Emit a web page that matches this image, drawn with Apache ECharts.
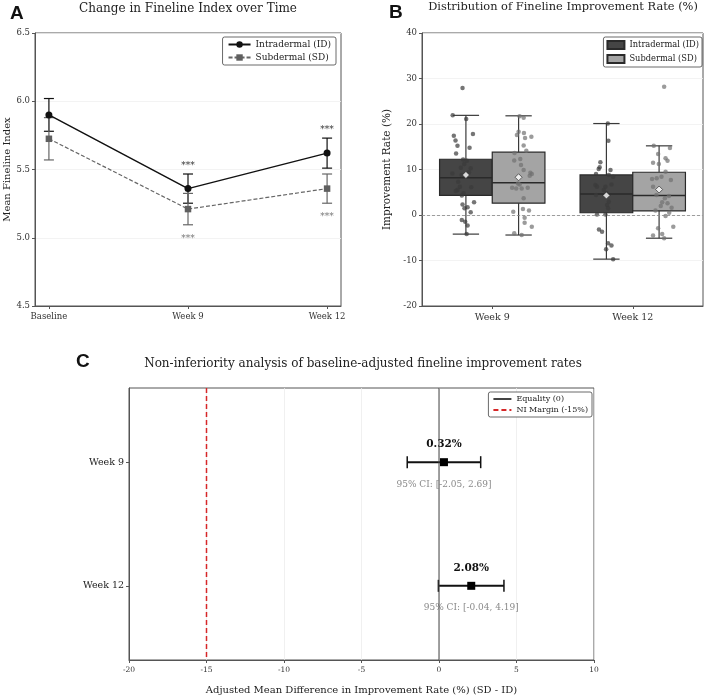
<!DOCTYPE html>
<html>
<head>
<meta charset="utf-8"/>
<title>Fineline Index</title>
<script src="https://cdn.jsdelivr.net/npm/echarts@6/dist/echarts.min.js"></script>
<style>
  html, body { margin: 0; padding: 0; background: #fff; }
  #chart { width: 709px; height: 698px; }
</style>
</head>
<body>
<div id="chart"></div>
<script>
  var SERIF = 'DejaVu Serif';

  // panel A: mean fineline index +/- sem
  var timeLabels = ['Baseline', 'Week 9', 'Week 12'];
  var idMean = [5.90, 5.36, 5.62];
  var idSem = [0.12, 0.107, 0.11];
  var sdMean = [5.725, 5.21, 5.36];
  var sdSem = [0.155, 0.115, 0.107];
  var idStars = ['', '***', '***'];
  var sdStars = ['', '***', '***'];

  // panel B: box stats [min, q1, median, q3, max]
  var weekLabels = ['Week 9', 'Week 12'];
  var idBox = [[-4.2, 4.3, 8.2, 12.25, 21.9], [-9.7, 0.5, 4.6, 8.8, 20.1]];
  var sdBox = [[-4.4, 2.6, 7.1, 13.8, 21.8], [-5.1, 0.9, 4.3, 9.4, 15.2]];
  var idRateMean = [8.8, 4.3];
  var sdRateMean = [8.3, 5.6];

  // individual points (value, horizontal jitter)
  var idW9 = [27.9, 21.9, 21.1, 17.8, 17.4, 16.4, 15.2, 14.8, 13.5, 12.2, 11.9, 11.2, 10.3, 10.4, 9.1, 8.8, 9.4,
    7.3, 6.2, 6.1, 5.5, 5.3, 4.8, 4.3, 2.8, 2.3, 1.5, 0.6, 1.7, -1.1, -1.5, -2.3, -4.2];
  var idW9Jit = [-0.024, -0.094, 0.002, 0.050, -0.086, -0.074, -0.060, 0.026, -0.070, -0.020, 0.007, -0.012, 0.034,
    -0.036, -0.096, -0.031, 0.022, -0.055, -0.043, 0.038, -0.060, -0.072, -0.017, -0.029, 0.058, -0.024, -0.010,
    0.034, 0.012, -0.029, -0.005, 0.012, 0.005];
  var sdW9 = [21.7, 21.4, 18.3, 17.6, 18.0, 17.2, 16.9, 15.3, 14.1, 13.6, 12.0, 12.3, 11.0, 9.9, 9.3, 9.0, 8.6,
    6.9, 6.7, 6.0, 5.8, 5.8, 6.0, 3.7, 0.7, 1.3, 1.0, -0.6, -1.7, -2.6, -4.0, -4.4];
  var sdW9Jit = [0.007, 0.036, 0.000, -0.012, 0.038, 0.091, 0.046, 0.036, 0.055, -0.029, -0.031, 0.012, 0.017,
    0.036, 0.084, 0.094, 0.079, -0.005, 0.007, -0.046, -0.017, 0.022, 0.065, 0.036, -0.038, 0.031, 0.074, 0.043,
    0.043, 0.094, -0.031, 0.022];
  var idW12 = [20.1, 16.3, 11.6, 10.5, 10.1, 9.9, 9.0, 8.8, 8.4, 6.6, 6.2, 6.2, 6.7, 5.5, 4.8, 4.4, 2.9, 2.2, 1.5,
    0.1, 0.1, -3.2, -3.7, -6.2, -6.7, -7.5, -9.7];
  var idW12Jit = [0.010, 0.014, -0.043, -0.048, -0.055, 0.029, -0.074, 0.017, 0.048, -0.079, -0.067, -0.007, 0.036,
    -0.019, 0.000, -0.074, 0.017, 0.005, 0.012, -0.067, -0.007, -0.053, -0.031, 0.012, 0.036, -0.002, 0.048];
  var sdW12 = [28.2, 15.2, 14.7, 13.4, 12.5, 11.9, 11.5, 11.2, 9.5, 8.4, 8.1, 7.9, 7.7, 6.2, 4.4, 4.2, 3.7, 2.8,
    2.6, 2.0, 1.6, 1.0, 0.5, -0.2, -2.6, -2.9, -4.5, -4.2, -5.1];
  var sdW12Jit = [0.036, -0.038, 0.077, -0.007, 0.046, 0.060, -0.043, -0.002, 0.046, 0.017, -0.017, -0.050, 0.084,
    -0.043, -0.019, 0.070, 0.041, 0.022, 0.060, 0.012, 0.089, -0.026, 0.072, 0.046, 0.101, -0.007, -0.043, 0.022,
    0.036];

  // panel C: adjusted mean difference and 95% CI
  var niLabels = ['Week 9', 'Week 12'];
  var niDiff = [0.32, 2.08];
  var niLow = [-2.05, -0.04];
  var niHigh = [2.69, 4.19];
  var niMargin = -15;

  var boxWidth = 0.375;
  var boxOffset = 0.1875;

  function txt(text, x, y, font, fill, align) {
    return {
      type: 'text', x: x, y: y,
      style: {
        text: text, font: font, fill: fill,
        textAlign: align || 'center', textVerticalAlign: 'middle',
        align: align || 'center', verticalAlign: 'middle'
      }
    };
  }

  function seg(a, b, stroke, w) {
    return {type: 'line', shape: {x1: a[0], y1: a[1], x2: b[0], y2: b[1]}, style: {stroke: stroke, lineWidth: w}};
  }

  function errorBars(color, stars, starColor, above) {
    return function (params, api) {
      var x = api.value(0), m = api.value(1), s = api.value(2);
      var top = api.coord([x, m + s]), bot = api.coord([x, m - s]);
      var cap = 5;
      var children = [
        seg(top, bot, color, 1.2),
        seg([top[0] - cap, top[1]], [top[0] + cap, top[1]], color, 1.2),
        seg([bot[0] - cap, bot[1]], [bot[0] + cap, bot[1]], color, 1.2)
      ];
      var star = stars[params.dataIndex];
      if (star) {
        var p = api.coord([x, above ? m + s + 0.06 : m - s - 0.1]);
        children.push(txt(star, p[0], p[1], '9px ' + SERIF, starColor));
      }
      return {type: 'group', children: children};
    };
  }

  function renderBox(params, api) {
    var x = api.value(0);
    var edge = '#2a2a2a';
    var pMin = api.coord([x, api.value(1)]);
    var pQ1 = api.coord([x, api.value(2)]);
    var pMed = api.coord([x, api.value(3)]);
    var pQ3 = api.coord([x, api.value(4)]);
    var pMax = api.coord([x, api.value(5)]);
    var left = api.coord([x - boxWidth / 2, 0])[0];
    var right = api.coord([x + boxWidth / 2, 0])[0];
    var capL = api.coord([x - boxWidth / 4, 0])[0];
    var capR = api.coord([x + boxWidth / 4, 0])[0];
    return {
      type: 'group',
      children: [
        seg(pMin, pQ1, '#3a3a3a', 1.2),
        seg(pQ3, pMax, '#3a3a3a', 1.2),
        seg([capL, pMin[1]], [capR, pMin[1]], '#3a3a3a', 1.2),
        seg([capL, pMax[1]], [capR, pMax[1]], '#3a3a3a', 1.2),
        {
          type: 'rect',
          shape: {x: left, y: pQ3[1], width: right - left, height: pQ1[1] - pQ3[1]},
          style: {fill: api.visual('color'), stroke: edge, lineWidth: 1.2}
        },
        seg([left, pMed[1]], [right, pMed[1]], edge, 1.5)
      ]
    };
  }

  function renderCI(params, api) {
    var y = api.value(0);
    var pm = api.coord([api.value(1), y]);
    var pl = api.coord([api.value(2), y]);
    var ph = api.coord([api.value(3), y]);
    var i = params.dataIndex;
    return {
      type: 'group',
      children: [
        seg(pl, ph, '#111', 2),
        seg([pl[0], pl[1] - 6], [pl[0], pl[1] + 6], '#111', 1.5),
        seg([ph[0], ph[1] - 6], [ph[0], ph[1] + 6], '#111', 1.5),
        {type: 'rect', shape: {x: pm[0] - 4, y: pm[1] - 4, width: 8, height: 8}, style: {fill: '#000'}},
        txt(niDiff[i].toFixed(2) + '%', pm[0], pm[1] - 18, 'bold 10.5px ' + SERIF, '#111'),
        txt('95% CI: [' + niLow[i].toFixed(2) + ', ' + niHigh[i].toFixed(2) + ']', pm[0], pm[1] + 22,
          '9px ' + SERIF, '#8a8a8a')
      ]
    };
  }

  function pts(vals, jit, pos) {
    return vals.map(function (v, i) { return [pos + jit[i], v]; });
  }

  var axisCol = '#555';
  function baseAxis(extra) {
    var ax = {
      axisLine: {show: true, onZero: false, lineStyle: {color: axisCol, width: 1}},
      axisTick: {show: true, length: 3, lineStyle: {color: axisCol}},
      axisLabel: {fontFamily: SERIF, fontSize: 8.5, color: '#333'},
      splitLine: {show: false}
    };
    for (var k in extra) {
      if (typeof extra[k] === 'object' && ax[k] && !Array.isArray(extra[k])) {
        for (var j in extra[k]) ax[k][j] = extra[k][j];
      } else {
        ax[k] = extra[k];
      }
    }
    return ax;
  }

  var chart = echarts.init(document.getElementById('chart'));

  var option = {
    animation: false,
    textStyle: {fontFamily: SERIF},
    graphic: [
      txt('A', 10, 14, 'bold 19px Liberation Sans', '#111', 'left'),
      txt('Change in Fineline Index over Time', 188, 9, '12px ' + SERIF, '#222'),
      txt('B', 389, 13, 'bold 19px Liberation Sans', '#111', 'left'),
      txt('Distribution of Fineline Improvement Rate (%)', 563, 7, '11.4px ' + SERIF, '#222'),
      txt('C', 76, 362, 'bold 19px Liberation Sans', '#111', 'left'),
      txt('Non-inferiority analysis of baseline-adjusted fineline improvement rates', 363, 364, '12px ' + SERIF, '#222')
    ],
    legend: [
      {
        data: ['Intradermal (ID)', 'Subdermal (SD)'],
        orient: 'vertical', right: 373, top: 37,
        itemWidth: 22, itemHeight: 8, itemGap: 4, padding: [3, 5],
        backgroundColor: '#fff', borderColor: '#444', borderWidth: 0.8, borderRadius: 2,
        textStyle: {fontFamily: SERIF, fontSize: 9, color: '#222'}
      },
      {
        data: ['bID', 'bSD'],
        formatter: function (n) { return n === 'bID' ? 'Intradermal (ID)' : 'Subdermal (SD)'; },
        icon: 'rect',
        orient: 'vertical', right: 7, top: 37,
        itemWidth: 17, itemHeight: 8, itemGap: 4, padding: [3, 3],
        backgroundColor: '#fff', borderColor: '#444', borderWidth: 0.8, borderRadius: 2,
        textStyle: {fontFamily: SERIF, fontSize: 8.3, color: '#222'}
      },
      {
        data: ['Equality (0)', 'NI Margin (-15%)'],
        orient: 'vertical', right: 117, top: 392,
        itemWidth: 18, itemHeight: 8, itemGap: 3, padding: [3, 4],
        itemStyle: {opacity: 0},
        backgroundColor: '#fff', borderColor: '#444', borderWidth: 0.8, borderRadius: 2,
        textStyle: {fontFamily: SERIF, fontSize: 8, color: '#222'}
      }
    ],
    grid: [
      {left: 35, top: 33, width: 306, height: 273, show: true, borderColor: axisCol, borderWidth: 1},
      {left: 422, top: 33, width: 281, height: 273, show: true, borderColor: axisCol, borderWidth: 1},
      {left: 129, top: 388, width: 465, height: 272, show: true, borderColor: axisCol, borderWidth: 1}
    ],
    xAxis: [
      baseAxis({
        gridIndex: 0, type: 'value', min: -0.1, max: 2.1,
        axisTick: {customValues: [0, 1, 2]},
        axisLabel: {customValues: [0, 1, 2], margin: 6, formatter: function (v) { return timeLabels[v]; }}
      }),
      baseAxis({
        gridIndex: 1, type: 'value', min: -0.5, max: 1.5,
        axisTick: {customValues: [0, 1]},
        axisLabel: {customValues: [0, 1], margin: 7, fontSize: 9.5, formatter: function (v) { return weekLabels[v]; }}
      }),
      baseAxis({
        gridIndex: 2, type: 'value', min: -20, max: 10, interval: 5,
        axisLabel: {fontSize: 7.5, margin: 6},
        splitLine: {show: true, lineStyle: {color: '#ececec', width: 0.8}},
        name: 'Adjusted Mean Difference in Improvement Rate (%) (SD - ID)',
        nameLocation: 'middle', nameGap: 25,
        nameTextStyle: {fontFamily: SERIF, fontSize: 10, color: '#222'}
      })
    ],
    yAxis: [
      baseAxis({
        gridIndex: 0, type: 'value', min: 4.5, max: 6.5, interval: 0.5,
        axisLabel: {margin: 5, formatter: function (v) { return v.toFixed(1); }},
        splitLine: {show: true, lineStyle: {color: '#f0f0f0', width: 0.8}},
        name: 'Mean Fineline Index', nameLocation: 'middle', nameGap: 23,
        nameTextStyle: {fontFamily: SERIF, fontSize: 10, color: '#222'}
      }),
      baseAxis({
        gridIndex: 1, type: 'value', min: -20, max: 40, interval: 10,
        axisLabel: {margin: 5},
        splitLine: {show: true, lineStyle: {color: '#f0f0f0', width: 0.8}},
        name: 'Improvement Rate (%)', nameLocation: 'middle', nameGap: 29,
        nameTextStyle: {fontFamily: SERIF, fontSize: 10.5, color: '#222'}
      }),
      baseAxis({
        gridIndex: 2, type: 'value', inverse: true, min: -0.6, max: 1.6,
        axisTick: {customValues: [0, 1]},
        axisLabel: {customValues: [0, 1], fontSize: 9.5, color: '#222', margin: 5,
          formatter: function (v) { return niLabels[v]; }}
      })
    ],
    series: [
      // panel A
      {
        type: 'custom', name: 'aErrID', xAxisIndex: 0, yAxisIndex: 0,
        renderItem: errorBars('#111', idStars, '#333', true),
        data: idMean.map(function (m, i) { return [i, m, idSem[i]]; }),
        encode: {x: 0, y: 1}
      },
      {
        type: 'custom', name: 'aErrSD', xAxisIndex: 0, yAxisIndex: 0,
        renderItem: errorBars('#666', sdStars, '#777', false),
        data: sdMean.map(function (m, i) { return [i, m, sdSem[i]]; }),
        encode: {x: 0, y: 1}
      },
      {
        type: 'line', name: 'Subdermal (SD)', xAxisIndex: 0, yAxisIndex: 0,
        data: sdMean.map(function (m, i) { return [i, m]; }),
        symbol: 'rect', symbolSize: 6.5,
        itemStyle: {color: '#5f5f5f'},
        lineStyle: {color: '#666', width: 1.2, type: [4, 2]}
      },
      {
        type: 'line', name: 'Intradermal (ID)', xAxisIndex: 0, yAxisIndex: 0,
        data: idMean.map(function (m, i) { return [i, m]; }),
        symbol: 'circle', symbolSize: 7,
        itemStyle: {color: '#111'},
        lineStyle: {color: '#111', width: 1.5}
      },
      // panel B
      {
        type: 'custom', name: 'bID', xAxisIndex: 1, yAxisIndex: 1,
        renderItem: renderBox,
        itemStyle: {color: '#454545', borderColor: '#2a2a2a', borderWidth: 1},
        data: idBox.map(function (b, i) { return [i - boxOffset].concat(b); }),
        encode: {x: 0, y: [1, 2, 3, 4, 5]}
      },
      {
        type: 'custom', name: 'bSD', xAxisIndex: 1, yAxisIndex: 1,
        renderItem: renderBox,
        itemStyle: {color: '#a4a4a4', borderColor: '#2a2a2a', borderWidth: 1},
        data: sdBox.map(function (b, i) { return [i + boxOffset].concat(b); }),
        encode: {x: 0, y: [1, 2, 3, 4, 5]}
      },
      {
        type: 'scatter', name: 'bIDpts', xAxisIndex: 1, yAxisIndex: 1,
        symbolSize: 4.5,
        itemStyle: {color: '#3a3a3a', opacity: 0.7},
        data: pts(idW9, idW9Jit, -boxOffset).concat(pts(idW12, idW12Jit, 1 - boxOffset)),
        markLine: {
          silent: true, symbol: 'none', label: {show: false},
          lineStyle: {type: [3, 2], color: '#888', width: 0.8},
          data: [{yAxis: 0}]
        }
      },
      {
        type: 'scatter', name: 'bSDpts', xAxisIndex: 1, yAxisIndex: 1,
        symbolSize: 4.5,
        itemStyle: {color: '#707070', opacity: 0.7},
        data: pts(sdW9, sdW9Jit, boxOffset).concat(pts(sdW12, sdW12Jit, 1 + boxOffset))
      },
      {
        type: 'scatter', name: 'bMeans', xAxisIndex: 1, yAxisIndex: 1,
        symbol: 'diamond', symbolSize: 7,
        itemStyle: {color: '#fff', borderColor: '#222', borderWidth: 0.8},
        data: idRateMean.map(function (m, i) { return [i - boxOffset, m]; })
          .concat(sdRateMean.map(function (m, i) { return [i + boxOffset, m]; }))
      },
      // panel C
      {
        type: 'line', name: 'Equality (0)', xAxisIndex: 2, yAxisIndex: 2,
        data: [[0, -0.6], [0, 1.6]], showSymbol: false, symbol: 'none',
        itemStyle: {color: '#444'},
        lineStyle: {color: '#444', width: 1}
      },
      {
        type: 'line', name: 'NI Margin (-15%)', xAxisIndex: 2, yAxisIndex: 2,
        data: [[niMargin, -0.6], [niMargin, 1.6]], showSymbol: false, symbol: 'none',
        itemStyle: {color: '#d62728'},
        lineStyle: {color: '#d62728', width: 1.5, type: [5, 3]}
      },
      {
        type: 'custom', name: 'cCI', xAxisIndex: 2, yAxisIndex: 2,
        renderItem: renderCI,
        data: niDiff.map(function (d, i) { return [i, d, niLow[i], niHigh[i]]; }),
        encode: {x: [1, 2, 3], y: 0}
      }
    ]
  };

  chart.setOption(option);
</script>
</body>
</html>
